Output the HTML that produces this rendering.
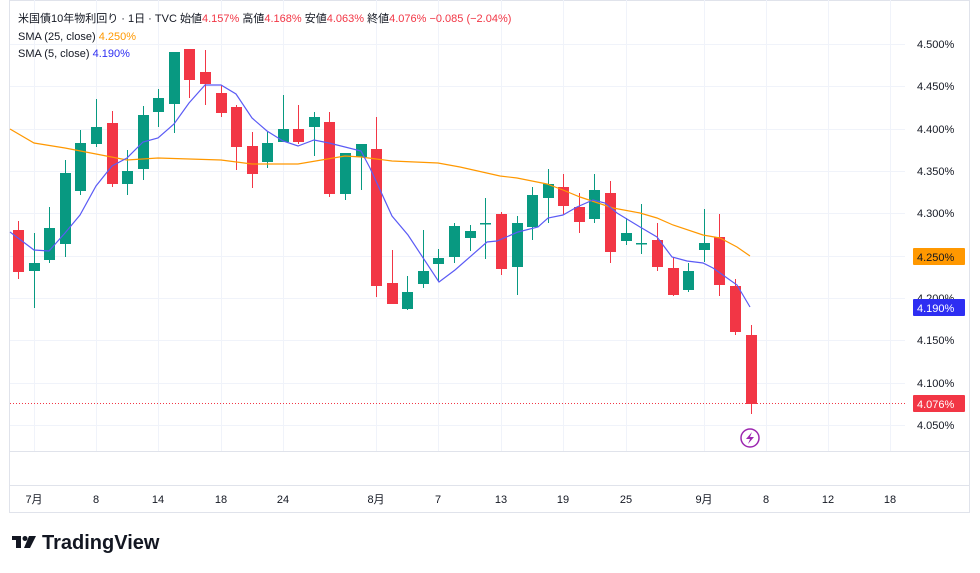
<!DOCTYPE html>
<html><head><meta charset="utf-8"><style>
body{margin:0;background:#fff;}
svg{display:block;font-family:"Liberation Sans","Noto Sans CJK JP",sans-serif;}
</style></head><body>
<svg width="980" height="573" viewBox="0 0 980 573" xmlns="http://www.w3.org/2000/svg">
<rect x="0" y="0" width="980" height="573" fill="#fff"/>
<rect x="9.5" y="0.5" width="960" height="512" fill="none" stroke="#e0e3eb"/>
<g stroke="#f0f3fa" stroke-width="1">
<line x1="10" x2="905" y1="44.5" y2="44.5"/><line x1="10" x2="905" y1="86.5" y2="86.5"/><line x1="10" x2="905" y1="129.5" y2="129.5"/><line x1="10" x2="905" y1="171.5" y2="171.5"/><line x1="10" x2="905" y1="213.5" y2="213.5"/><line x1="10" x2="905" y1="256.5" y2="256.5"/><line x1="10" x2="905" y1="298.5" y2="298.5"/><line x1="10" x2="905" y1="340.5" y2="340.5"/><line x1="10" x2="905" y1="383.5" y2="383.5"/><line x1="10" x2="905" y1="425.5" y2="425.5"/>
<line x1="34.5" x2="34.5" y1="0" y2="451"/><line x1="96.5" x2="96.5" y1="0" y2="451"/><line x1="158.5" x2="158.5" y1="0" y2="451"/><line x1="221.5" x2="221.5" y1="0" y2="451"/><line x1="283.5" x2="283.5" y1="0" y2="451"/><line x1="376.5" x2="376.5" y1="0" y2="451"/><line x1="438.5" x2="438.5" y1="0" y2="451"/><line x1="501.5" x2="501.5" y1="0" y2="451"/><line x1="563.5" x2="563.5" y1="0" y2="451"/><line x1="626.5" x2="626.5" y1="0" y2="451"/><line x1="704.5" x2="704.5" y1="0" y2="451"/><line x1="766.5" x2="766.5" y1="0" y2="451"/><line x1="828.5" x2="828.5" y1="0" y2="451"/><line x1="890.5" x2="890.5" y1="0" y2="451"/>
</g>
<line x1="10" x2="970" y1="451.5" y2="451.5" stroke="#e0e3eb"/>
<line x1="10" x2="970" y1="485.5" y2="485.5" stroke="#e0e3eb"/>
<line x1="10" x2="905" y1="403.5" y2="403.5" stroke="#f23645" stroke-dasharray="1,2"/>
<g fill="#f23645" stroke="#f23645">
<line x1="18.5" x2="18.5" y1="221" y2="279"/><rect x="13" y="230" width="11" height="42" stroke="none"/>
<line x1="112.5" x2="112.5" y1="111" y2="187"/><rect x="107" y="123" width="11" height="61" stroke="none"/>
<line x1="189.5" x2="189.5" y1="49" y2="98"/><rect x="184" y="49" width="11" height="31" stroke="none"/>
<line x1="205.5" x2="205.5" y1="50" y2="105"/><rect x="200" y="72" width="11" height="12" stroke="none"/>
<line x1="221.5" x2="221.5" y1="85" y2="117"/><rect x="216" y="93" width="11" height="20" stroke="none"/>
<line x1="236.5" x2="236.5" y1="105" y2="170"/><rect x="231" y="107" width="11" height="40" stroke="none"/>
<line x1="252.5" x2="252.5" y1="132" y2="188"/><rect x="247" y="146" width="11" height="28" stroke="none"/>
<line x1="298.5" x2="298.5" y1="105" y2="144"/><rect x="293" y="129" width="11" height="13" stroke="none"/>
<line x1="329.5" x2="329.5" y1="112" y2="197"/><rect x="324" y="122" width="11" height="72" stroke="none"/>
<line x1="376.5" x2="376.5" y1="117" y2="297"/><rect x="371" y="149" width="11" height="137" stroke="none"/>
<line x1="392.5" x2="392.5" y1="250" y2="304"/><rect x="387" y="283" width="11" height="21" stroke="none"/>
<line x1="501.5" x2="501.5" y1="212" y2="275"/><rect x="496" y="214" width="11" height="55" stroke="none"/>
<line x1="563.5" x2="563.5" y1="174" y2="215"/><rect x="558" y="187" width="11" height="19" stroke="none"/>
<line x1="579.5" x2="579.5" y1="193" y2="233"/><rect x="574" y="207" width="11" height="15" stroke="none"/>
<line x1="610.5" x2="610.5" y1="181" y2="263"/><rect x="605" y="193" width="11" height="59" stroke="none"/>
<line x1="657.5" x2="657.5" y1="223" y2="271"/><rect x="652" y="240" width="11" height="27" stroke="none"/>
<line x1="673.5" x2="673.5" y1="257" y2="296"/><rect x="668" y="268" width="11" height="27" stroke="none"/>
<line x1="719.5" x2="719.5" y1="214" y2="296"/><rect x="714" y="237" width="11" height="48" stroke="none"/>
<line x1="735.5" x2="735.5" y1="279" y2="335"/><rect x="730" y="286" width="11" height="46" stroke="none"/>
<line x1="751.5" x2="751.5" y1="325" y2="414"/><rect x="746" y="335" width="11" height="69" stroke="none"/>
</g>
<g fill="#089981" stroke="#089981">
<line x1="34.5" x2="34.5" y1="233" y2="308"/><rect x="29" y="263" width="11" height="8" stroke="none"/>
<line x1="49.5" x2="49.5" y1="207" y2="263"/><rect x="44" y="228" width="11" height="32" stroke="none"/>
<line x1="65.5" x2="65.5" y1="160" y2="257"/><rect x="60" y="173" width="11" height="71" stroke="none"/>
<line x1="80.5" x2="80.5" y1="130" y2="195"/><rect x="75" y="143" width="11" height="48" stroke="none"/>
<line x1="96.5" x2="96.5" y1="99" y2="147"/><rect x="91" y="127" width="11" height="17" stroke="none"/>
<line x1="127.5" x2="127.5" y1="150" y2="195"/><rect x="122" y="171" width="11" height="13" stroke="none"/>
<line x1="143.5" x2="143.5" y1="106" y2="180"/><rect x="138" y="115" width="11" height="54" stroke="none"/>
<line x1="158.5" x2="158.5" y1="89" y2="127"/><rect x="153" y="98" width="11" height="14" stroke="none"/>
<line x1="174.5" x2="174.5" y1="52" y2="133"/><rect x="169" y="52" width="11" height="52" stroke="none"/>
<line x1="267.5" x2="267.5" y1="132" y2="168"/><rect x="262" y="143" width="11" height="19" stroke="none"/>
<line x1="283.5" x2="283.5" y1="95" y2="142"/><rect x="278" y="129" width="11" height="13" stroke="none"/>
<line x1="314.5" x2="314.5" y1="112" y2="156"/><rect x="309" y="117" width="11" height="10" stroke="none"/>
<line x1="345.5" x2="345.5" y1="153" y2="200"/><rect x="340" y="153" width="11" height="41" stroke="none"/>
<line x1="361.5" x2="361.5" y1="144" y2="190"/><rect x="356" y="144" width="11" height="13" stroke="none"/>
<line x1="407.5" x2="407.5" y1="276" y2="310"/><rect x="402" y="292" width="11" height="17" stroke="none"/>
<line x1="423.5" x2="423.5" y1="230" y2="288"/><rect x="418" y="271" width="11" height="13" stroke="none"/>
<line x1="438.5" x2="438.5" y1="249" y2="281"/><rect x="433" y="258" width="11" height="6" stroke="none"/>
<line x1="454.5" x2="454.5" y1="223" y2="263"/><rect x="449" y="226" width="11" height="31" stroke="none"/>
<line x1="470.5" x2="470.5" y1="225" y2="251"/><rect x="465" y="231" width="11" height="7" stroke="none"/>
<line x1="485.5" x2="485.5" y1="198" y2="259"/><rect x="480" y="223" width="11" height="1.5" stroke="none"/>
<line x1="517.5" x2="517.5" y1="216" y2="295"/><rect x="512" y="223" width="11" height="44" stroke="none"/>
<line x1="532.5" x2="532.5" y1="187" y2="240"/><rect x="527" y="195" width="11" height="32" stroke="none"/>
<line x1="548.5" x2="548.5" y1="169" y2="223"/><rect x="543" y="184" width="11" height="14" stroke="none"/>
<line x1="594.5" x2="594.5" y1="174" y2="223"/><rect x="589" y="190" width="11" height="29" stroke="none"/>
<line x1="626.5" x2="626.5" y1="218" y2="245"/><rect x="621" y="233" width="11" height="8" stroke="none"/>
<line x1="641.5" x2="641.5" y1="204" y2="254"/><rect x="636" y="243" width="11" height="1.5" stroke="none"/>
<line x1="688.5" x2="688.5" y1="263" y2="292"/><rect x="683" y="271" width="11" height="19" stroke="none"/>
<line x1="704.5" x2="704.5" y1="209" y2="262"/><rect x="699" y="243" width="11" height="7" stroke="none"/>
</g>
<polyline fill="none" stroke="#ff9800" stroke-width="1.2" points="10,129 34,143 65,148 96,154 127,160 158,158 221,160 252,164 298,164 345,156 361,157 392,161 438,163 460,167 500,176 517,178 547,184 563,190 580,197 613,208 640,213 657,218 673,225 703,235 720,238 737,247 750,256"/>
<polyline fill="none" stroke="#5b5bf5" stroke-width="1.2" points="10,232 34,250 49,251 65,233 80,215 96,186 112,166 127,158 143,142 158,138 174,124 189,103 205,85 221,85 236,94 252,118 267,131 283,141 298,146 314,140 329,143 345,147 361,151 370,168 392,216 408,235 439,282 455,270 487,242 497,241 518,232 538,227 548,218 563,215 577,207 593,200 605,203 617,213 640,227 657,237 672,257 687,261 703,263 713,268 737,285 750,307"/>
<g font-size="11" fill="#131722">
<text x="917" y="48">4.500%</text><text x="917" y="90">4.450%</text><text x="917" y="133">4.400%</text><text x="917" y="175">4.350%</text><text x="917" y="217">4.300%</text><text x="917" y="302">4.200%</text><text x="917" y="344">4.150%</text><text x="917" y="387">4.100%</text><text x="917" y="429">4.050%</text>
</g>
<rect x="913" y="248" width="52" height="17" fill="#ff9800" rx="1"/><text x="917" y="261" font-size="11" fill="#131722">4.250%</text>
<rect x="913" y="299" width="52" height="17" fill="#2e2ef2" rx="1"/><text x="917" y="312" font-size="11" fill="#fff">4.190%</text>
<rect x="913" y="395" width="52" height="17" fill="#f23645" rx="1"/><text x="917" y="408" font-size="11" fill="#fff">4.076%</text>
<g font-size="11" fill="#131722" text-anchor="middle">
<text x="34" y="503">7月</text><text x="96" y="503">8</text><text x="158" y="503">14</text><text x="221" y="503">18</text><text x="283" y="503">24</text><text x="376" y="503">8月</text><text x="438" y="503">7</text><text x="501" y="503">13</text><text x="563" y="503">19</text><text x="626" y="503">25</text><text x="704" y="503">9月</text><text x="766" y="503">8</text><text x="828" y="503">12</text><text x="890" y="503">18</text>
</g>
<circle cx="750" cy="438" r="9" fill="#fff" stroke="#9c27b0" stroke-width="1.5"/>
<path d="M752 432 L746 439 L750 439 L748 444 L754 437 L750 437 Z" fill="#9c27b0"/>
<g font-size="11">
<text x="18" y="22" fill="#131722">米国債10年物利回り · 1日 · TVC  始値<tspan fill="#f23645">4.157%</tspan>  高値<tspan fill="#f23645">4.168%</tspan>  安値<tspan fill="#f23645">4.063%</tspan>  終値<tspan fill="#f23645">4.076%  −0.085 (−2.04%)</tspan></text>
<text x="18" y="40" fill="#131722">SMA (25, close)  <tspan fill="#ff9800">4.250%</tspan></text>
<text x="18" y="57" fill="#131722">SMA (5, close)  <tspan fill="#2e2ef2">4.190%</tspan></text>
</g>
<g transform="translate(12,536)" fill="#131722">
<rect x="0" y="0" width="9" height="4"/><rect x="4" y="0" width="5" height="12"/><circle cx="13" cy="2.5" r="2.5"/><path d="M17 0 L24 0 L18 12 L12 12 Z"/>
<text x="30" y="13" font-size="20" font-weight="bold">TradingView</text>
</g>
</svg>
</body></html>
